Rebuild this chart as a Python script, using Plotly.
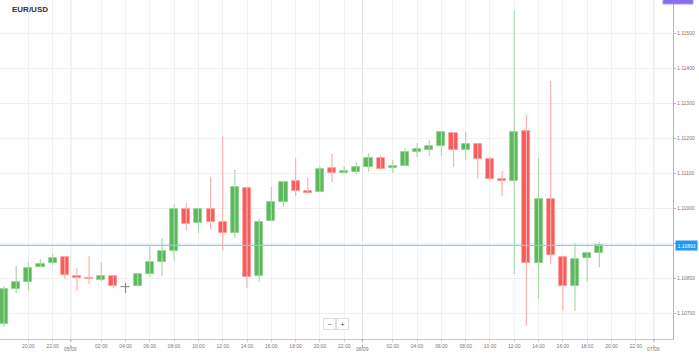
import pandas as pd
import plotly.graph_objects as go

# ---- data (hourly EUR/USD candles, 04/09 18:00 -> 06/09 19:00) ----
start = "2019-09-04 18:00"
opens = [1.10669, 1.10769, 1.10789, 1.10831, 1.10843, 1.10860, 1.10806, 1.10800, 1.10794, 1.10806,
         1.10774, 1.10777, 1.10811, 1.10846, 1.10877, 1.10997, 1.10957, 1.10997, 1.10960, 1.10929,
         1.11057, 1.10806, 1.10963, 1.11017, 1.11077, 1.11049, 1.11046, 1.11114, 1.11100, 1.11103,
         1.11117, 1.11143, 1.11114, 1.11120, 1.11160, 1.11166, 1.11177, 1.11214, 1.11166, 1.11183,
         1.11140, 1.11083, 1.11077, 1.11220, 1.10843, 1.11026, 1.10860, 1.10777, 1.10857, 1.10871]
highs = [1.10777, 1.10834, 1.10846, 1.10854, 1.10871, 1.10860, 1.10829, 1.10863, 1.10846, 1.10806,
         1.10786, 1.10814, 1.10890, 1.10914, 1.11011, 1.11014, 1.10997, 1.11089, 1.11206, 1.11109,
         1.11057, 1.10969, 1.11060, 1.11077, 1.11143, 1.11086, 1.11120, 1.11154, 1.11120, 1.11131,
         1.11157, 1.11149, 1.11137, 1.11171, 1.11186, 1.11194, 1.11217, 1.11214, 1.11217, 1.11183,
         1.11146, 1.11106, 1.11566, 1.11266, 1.11143, 1.11363, 1.10860, 1.10900, 1.10871, 1.10903]
lows = [1.10660, 1.10757, 1.10763, 1.10831, 1.10837, 1.10797, 1.10763, 1.10783, 1.10791, 1.10771,
        1.10757, 1.10777, 1.10803, 1.10806, 1.10849, 1.10934, 1.10929, 1.10940, 1.10877, 1.10914,
        1.10771, 1.10789, 1.10963, 1.11003, 1.11034, 1.11040, 1.11046, 1.11074, 1.11100, 1.11097,
        1.11103, 1.11109, 1.11100, 1.11120, 1.11146, 1.11149, 1.11149, 1.11117, 1.11137, 1.11083,
        1.11083, 1.11034, 1.10811, 1.10663, 1.10740, 1.10840, 1.10706, 1.10706, 1.10789, 1.10831]
closes = [1.10769, 1.10789, 1.10829, 1.10840, 1.10857, 1.10809, 1.10800, 1.10797, 1.10806, 1.10777,
          1.10774, 1.10811, 1.10846, 1.10877, 1.10997, 1.10954, 1.10997, 1.10960, 1.10929, 1.11060,
          1.10803, 1.10960, 1.11017, 1.11074, 1.11049, 1.11043, 1.11111, 1.11100, 1.11106, 1.11117,
          1.11143, 1.11111, 1.11120, 1.11160, 1.11169, 1.11177, 1.11217, 1.11166, 1.11183, 1.11140,
          1.11083, 1.11077, 1.11217, 1.10843, 1.11026, 1.10866, 1.10777, 1.10854, 1.10871, 1.10893]
current_price = 1.10893
y_ticks = [1.107, 1.108, 1.109, 1.110, 1.111, 1.112, 1.113, 1.114, 1.115]
day_labels = ["05/09", "06/09", "07/09"]
day_marks = ["2019-09-04 23:30", "2019-09-05 23:30", "2019-09-06 23:30"]
x_range = ["2019-09-04 17:40", "2019-09-07 01:04"]

times = pd.date_range(start, periods=len(opens), freq="h")

GREEN, RED, GRAY = "#5cb85c", "#f75c5c", "#888888"
GREEN_W, RED_W, GRAY_W = "#a9dba9", "#ffb0b0", "#888888"

fig = go.Figure()

# wicks
for col, wcol in [(GREEN, GREEN_W), (RED, RED_W), (GRAY, GRAY_W)]:
    xs, ys = [], []
    for t, o, h, l, c in zip(times, opens, highs, lows, closes):
        cc = GREEN if c > o else (RED if c < o else GRAY)
        if cc != col:
            continue
        xs += [t, t, None]
        ys += [l, h, None]
    fig.add_trace(go.Scatter(x=xs, y=ys, mode="lines", line=dict(color=wcol, width=1.2),
                             hoverinfo="skip", showlegend=False))

# bodies
base = [min(o, c) for o, c in zip(opens, closes)]
height = [max(abs(c - o), 0.000012) for o, c in zip(opens, closes)]
fill = [GREEN if c > o else (RED if c < o else GRAY) for o, c in zip(opens, closes)]
edge = ["#8fd08f" if c > o else ("#ff9a9a" if c < o else GRAY) for o, c in zip(opens, closes)]
fig.add_trace(go.Bar(x=times, y=height, base=base, width=2.4e6,
                     marker=dict(color=fill, line=dict(color=edge, width=0.8)),
                     showlegend=False, hoverinfo="skip"))

# current price line (on top of candles)
fig.add_trace(go.Scatter(x=x_range, y=[current_price, current_price], mode="lines",
                         line=dict(color="#8cc8f2", width=1.3), hoverinfo="skip", showlegend=False))

# tick positions: every 2 hours, midnights unlabeled
tick_times = [t for t in pd.date_range("2019-09-04 20:00", "2019-09-06 22:00", freq="2h") if t.hour != 0]

fig.update_layout(
    width=699, height=357,
    margin=dict(l=0, r=26, t=0, b=18),
    paper_bgcolor="white", plot_bgcolor="white",
    bargap=0,
    font=dict(family="Liberation Sans, Arial, sans-serif", color="#666"),
    xaxis=dict(
        type="date",
        range=x_range,
        tickvals=tick_times,
        ticktext=[t.strftime("%H:%M") for t in tick_times],
        tickfont=dict(size=5, color="#777"),
        showgrid=True, gridcolor="#f1f1f1", gridwidth=1,
        showline=True, linecolor="#c8c8c8", linewidth=1,
        ticks="outside", ticklen=2, tickcolor="#d0d0d0",
        zeroline=False, fixedrange=True,
    ),
    yaxis=dict(
        side="right",
        range=[1.106257, 1.115943],
        tickvals=y_ticks,
        # the 1.10900 label sits behind the current-price label in the original
        ticktext=["" if abs(v - current_price) < 0.0002 else f"{v:.5f}" for v in y_ticks],
        tickfont=dict(size=5, color="#777"),
        showgrid=True, gridcolor="#f1f1f1", gridwidth=1,
        showline=True, linecolor="#b5b5b5", linewidth=1,
        ticks="outside", ticklen=2, tickcolor="#b5b5b5",
        zeroline=False, fixedrange=True,
    ),
)

# day separators
for d, lab in zip(day_marks, day_labels):
    fig.add_shape(type="line", xref="x", yref="paper", x0=d, x1=d, y0=0, y1=1,
                  line=dict(color="#e4e4e4", width=1), layer="below")
    fig.add_shape(type="line", xref="x", yref="paper", x0=d, x1=d, y0=0, y1=-0.028,
                  line=dict(color="#aaaaaa", width=1, dash="dot"))
    fig.add_annotation(x=d, xref="x", y=0, yref="paper", yshift=-15, text=lab,
                       showarrow=False, font=dict(size=5, color="#777"))

# current price label
fig.add_annotation(x=1, xref="paper", xanchor="left", xshift=2, y=current_price, yref="y",
                   text=f"{current_price:.5f}", showarrow=False, bgcolor="#2196f3",
                   font=dict(size=5, color="white"), borderpad=1.5)

# purple label cut off at top-right
fig.add_shape(type="rect", xref="paper", yref="paper", x0=663 / 673, x1=693 / 673,
              y0=1 - 4 / 339, y1=1.03, fillcolor="#8a6cf0", line=dict(color="#a893f5", width=1))

# title
fig.add_annotation(x=10 / 673, xref="paper", xanchor="left", y=1, yref="paper", yanchor="top",
                   yshift=-3, text="<b>EUR/USD</b>", showarrow=False,
                   font=dict(size=8, color="#333", family="Liberation Sans, Arial, sans-serif"))

# zoom buttons
for px, txt in [(329, "−"), (342, "+")]:
    fig.add_annotation(x=px / 673, xref="paper", y=(339 - 330) / 339, yref="paper", text=txt,
                       showarrow=False, bgcolor="white", bordercolor="#dddddd", borderwidth=1,
                       width=9, height=8, font=dict(size=7, color="#444"))

fig.write_html("out.html", config={"displayModeBar": False},
               post_script="document.body.style.margin='0';document.body.style.overflow='hidden';")
